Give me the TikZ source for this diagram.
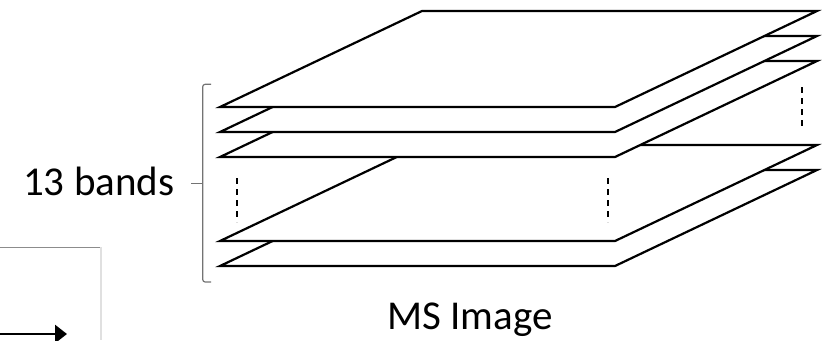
\documentclass[tikz,border=0pt]{standalone}
\usepackage{fontspec}
\setmainfont{Carlito}
\usetikzlibrary{arrows.meta}
\begin{document}
\begin{tikzpicture}[x=1pt,y=-1pt,
  band/.style={draw=black,fill=white,line width=2.2pt,line join=miter},
  gapmark/.style={draw=black,line width=1.2pt,dash pattern=on 6pt off 5pt},
  bracket/.style={draw=black!55,line width=1.2pt,rounded corners=2.5pt},
  lbl/.style={font=\fontsize{41}{48}\selectfont,inner sep=0pt},
  frame/.style={draw=black!45,line width=1.4pt}]
\useasboundingbox (0,0) rectangle (829,340);

% stack of band planes, drawn bottom to top so upper ones hide lower ones
\foreach \yf/\nm in {266/p5,241/p4,157/p3,132/p2,107/p1}{
  \coordinate (\nm-fl) at (220,\yf);
  \coordinate (\nm-fr) at (615,\yf);
  \coordinate (\nm-br) at (817,\yf-96);
  \coordinate (\nm-bl) at (422,\yf-96);
  \path[band] (\nm-fl) -- (\nm-fr) -- (\nm-br) -- (\nm-bl) -- cycle;
}

% dashed marks for the omitted bands
\coordinate (d1a) at (237,178); \coordinate (d1b) at (237,222);
\coordinate (d2a) at (608,178); \coordinate (d2b) at (608,222);
\coordinate (d3a) at (802,87);  \coordinate (d3b) at (802,130);
\draw[gapmark] (d1a) -- (d1b);
\draw[gapmark] (d2a) -- (d2b);
\draw[gapmark] (d3a) -- (d3b);

% bracket grouping the bands
\coordinate (bt) at (211,84.3);
\coordinate (bb) at (211,282);
\coordinate (bm) at (202.7,183.3);
\coordinate (bk) at (190.7,183.3);
\draw[bracket] (bt) -- (202.7,84.3) -- (202.7,282) -- (bb);
\draw[draw=black!55,line width=1.2pt] (bm) -- (bk);

\node[lbl,anchor=base west] (bands) at (23,195.7) {13 bands};
\node[lbl,anchor=base] (ms) at (470,329) {MS Image};

% partial frame and arrow at lower left
\coordinate (ftl) at (0,247.3);
\coordinate (ftr) at (101,247.3);
\coordinate (fbr) at (101,340);
\draw[frame] (ftl) -- (ftr);
\draw[draw=black!12,line width=2pt] (ftr) -- (fbr);
\coordinate (as) at (0,334);
\coordinate (ae) at (67,334);
\draw[line width=2.6pt,-{Triangle[length=12pt,width=18pt]}] (as) -- (ae);
\end{tikzpicture}
\end{document}
